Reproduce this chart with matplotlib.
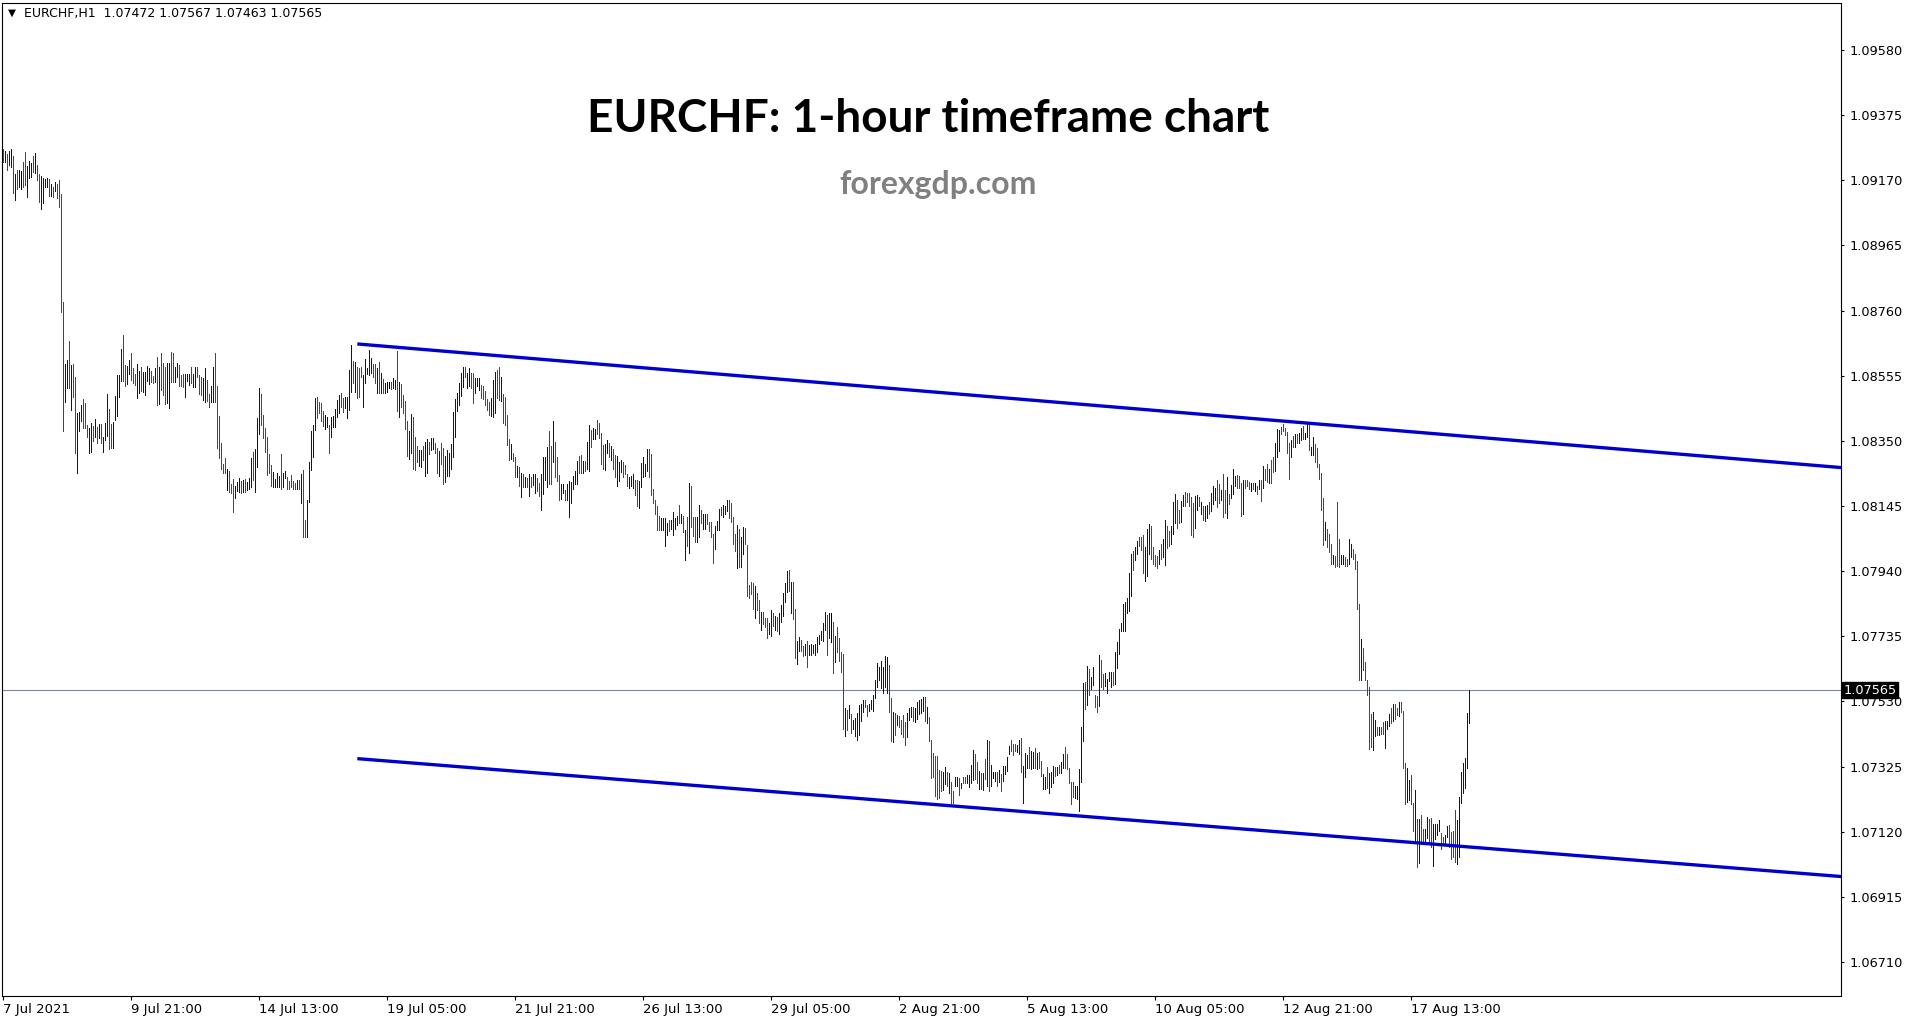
import matplotlib
matplotlib.use("Agg")
import matplotlib.pyplot as plt
from matplotlib.collections import LineCollection
import numpy as np

# EURCHF H1 bars, 7 Jul - 18 Aug 2021
# prices kept in points above 1.00000 (1 pt = 0.00001)
high_pts = [
    9267, 9263, 9252, 9263, 9270, 9246, 9190, 9202, 9202, 9200,
    9228, 9259, 9215, 9230, 9225, 9246, 9257, 9218, 9190, 9183,
    9177, 9175, 9177, 9173, 9158, 9148, 9164, 9158, 9171, 9127,
    8786, 8592, 8604, 8665, 8588, 8592, 8552, 8438, 8442, 8463,
    8481, 8468, 8400, 8391, 8405, 8397, 8419, 8394, 8403, 8403,
    8363, 8407, 8497, 8450, 8403, 8410, 8491, 8557, 8557, 8639,
    8683, 8588, 8585, 8604, 8627, 8580, 8562, 8592, 8571, 8583,
    8567, 8567, 8585, 8578, 8571, 8554, 8578, 8615, 8581, 8627,
    8596, 8581, 8596, 8596, 8630, 8627, 8583, 8596, 8588, 8557,
    8560, 8560, 8560, 8562, 8581, 8560, 8581, 8581, 8557, 8552,
    8547, 8578, 8541, 8499, 8522, 8581, 8627, 8522, 8429, 8344,
    8277, 8295, 8263, 8256, 8214, 8229, 8208, 8221, 8232, 8224,
    8227, 8229, 8221, 8232, 8295, 8316, 8323, 8421, 8515, 8497,
    8431, 8389, 8361, 8308, 8274, 8253, 8229, 8250, 8239, 8308,
    8248, 8256, 8235, 8224, 8242, 8224, 8218, 8227, 8227,
    8246, 8258, 8101, 8164, 8285, 8382, 8400, 8484, 8489, 8473,
    8470, 8445, 8431, 8424, 8400, 8424, 8428, 8449, 8479, 8494,
    8502, 8484, 8489, 8489, 8573, 8652, 8602, 8599, 8582, 8578,
    8582, 8557, 8607, 8578, 8636, 8610, 8591, 8591, 8578, 8599,
    8565, 8544, 8531, 8536, 8536, 8536, 8547, 8540, 8634, 8536,
    8529, 8494, 8477, 8411, 8382, 8435, 8426, 8363, 8334, 8321,
    8321, 8334, 8348, 8355, 8348, 8358, 8358, 8342, 8327, 8319,
    8342, 8327, 8302, 8321, 8313, 8340, 8442, 8481, 8502, 8531,
    8563, 8582, 8582, 8563, 8578, 8565, 8565, 8547, 8547, 8547,
    8526, 8523, 8508, 8481, 8473, 8484, 8540, 8568, 8573, 8582,
    8550, 8498, 8489, 8431, 8355, 8340, 8313, 8300, 8271, 8269,
    8248, 8246, 8237, 8232, 8246, 8237, 8246, 8246, 8232, 8216,
    8246, 8300, 8300, 8330, 8382, 8334, 8414, 8348, 8300, 8243,
    8214, 8214, 8195, 8214, 8225, 8222, 8240, 8256, 8288, 8302,
    8306, 8288, 8288, 8348, 8400, 8384, 8390, 8386, 8416, 8407,
    8375, 8336, 8340, 8352, 8342, 8333, 8323, 8305, 8302, 8284,
    8291, 8284, 8273, 8247, 8235, 8239, 8245, 8228, 8226, 8224,
    8281, 8300, 8277, 8323, 8323, 8310, 8200, 8163, 8144, 8113,
    8106, 8106, 8106, 8090, 8100, 8102, 8127, 8106, 8113, 8148,
    8119, 8113, 8069, 8109, 8218, 8207, 8109, 8109, 8109, 8148,
    8134, 8119, 8119, 8119, 8095, 8095, 8056, 8081, 8098, 8137,
    8142, 8148, 8144, 8165, 8165, 8153, 8111, 8056, 8085, 8074,
    8046, 8079, 8077, 8022, 7896, 7906, 7903, 7893, 7872, 7849,
    7812, 7812, 7794, 7794, 7777, 7817, 7807, 7798, 7796, 7807,
    7833, 7872, 7903, 7941, 7945, 7906, 7906, 7822, 7721, 7733,
    7723, 7704, 7710, 7721, 7707, 7710, 7707, 7712, 7733, 7738,
    7752, 7777, 7812, 7801, 7807, 7809, 7780, 7735, 7765, 7731,
    7686, 7679, 7508, 7502, 7518, 7492, 7473, 7479, 7494, 7518,
    7523, 7534, 7534, 7518, 7521, 7534, 7550, 7597, 7651, 7637,
    7658, 7637, 7672, 7670, 7644, 7542, 7497, 7494, 7487, 7484,
    7471, 7487, 7466, 7494, 7508, 7513, 7513, 7508, 7529, 7536,
    7539, 7543, 7543, 7513, 7482, 7408, 7368, 7358, 7358, 7314,
    7312, 7309, 7324, 7309, 7306, 7277, 7249, 7291, 7291, 7288,
    7274, 7293, 7293, 7298, 7298, 7330, 7377, 7366, 7340, 7312,
    7306, 7306, 7348, 7410, 7406, 7330, 7309, 7309, 7309, 7314,
    7301, 7326, 7326, 7356, 7389, 7410, 7396, 7396, 7393, 7410,
    7414, 7326, 7368, 7361, 7387, 7375, 7372, 7385, 7368, 7372,
    7343, 7301, 7293, 7324, 7306, 7309, 7326, 7324, 7324, 7330,
    7340, 7364, 7387, 7364, 7322, 7277, 7277, 7264, 7264, 7316,
    7448, 7589, 7592, 7641, 7631, 7606, 7639, 7550, 7547, 7676,
    7660, 7616, 7620, 7602, 7623, 7623, 7623, 7686, 7717, 7759,
    7777, 7836, 7843, 7854, 7935, 7993, 8004, 8016, 8035, 8048,
    8048, 8053, 8016, 8074, 8088, 8081, 8016, 7990, 7987, 8006,
    8025, 8040, 8100, 8081, 8067, 8081, 8158, 8182, 8165, 8132,
    8161, 8179, 8190, 8186, 8186, 8172, 8153, 8176, 8179, 8172,
    8158, 8144, 8144, 8148, 8158, 8186, 8207, 8203, 8228, 8214,
    8195, 8245, 8195, 8235, 8182, 8210, 8260, 8239, 8242, 8239,
    8216, 8228, 8226, 8228, 8221, 8218, 8216, 8216, 8207, 8228,
    8228, 8270, 8263, 8277, 8263, 8289, 8298, 8342, 8386, 8384,
    8394, 8402, 8389, 8378, 8342, 8354, 8365, 8373, 8373, 8375,
    8389, 8396, 8375, 8405, 8407, 8331, 8363, 8340, 8329, 8277,
    8249, 8169, 8095, 8074, 8058,
    8027, 7990, 7987, 8158, 8040, 7990, 7990, 7985, 7977, 8040,
    8027, 8011, 7993, 7972, 7836, 7725, 7697, 7655, 7597, 7576,
    7492, 7497, 7473, 7450, 7448, 7448, 7466, 7469, 7469, 7492,
    7508, 7521, 7521, 7508, 7529,
    7529, 7501, 7335, 7322, 7282, 7298, 7211, 7251, 7159, 7159,
    7172, 7130, 7130, 7165, 7159, 7162, 7144, 7144, 7144, 7157,
    7115, 7104, 7109, 7138, 7141, 7120, 7123, 7188, 7157, 7230,
    7309, 7335, 7351, 7494, 7567,
]

low_pts = [
    9228, 9228, 9204, 9218, 9213, 9129, 9108, 9144, 9148, 9144,
    9150, 9155, 9118, 9178, 9181, 9195, 9194, 9171, 9102, 9080,
    9099, 9148, 9150, 9121, 9121, 9118, 9137, 9114, 9087, 8756,
    8382, 8473, 8515, 8515, 8447, 8489, 8311, 8250, 8382, 8413,
    8392, 8392, 8361, 8311, 8316, 8350, 8361, 8342, 8358, 8342,
    8316, 8352, 8365, 8323, 8329, 8329, 8415, 8429, 8489, 8539,
    8539, 8523, 8529, 8562, 8541, 8531, 8526, 8484, 8502, 8508,
    8505, 8494, 8539, 8529, 8536, 8531, 8536, 8463, 8466, 8510,
    8494, 8466, 8468, 8452, 8536, 8536, 8536, 8552, 8523, 8523,
    8518, 8487, 8539, 8526, 8531, 8518, 8520, 8550, 8497, 8494,
    8480, 8473, 8476, 8457, 8473, 8473, 8473, 8326, 8295, 8263,
    8248, 8250, 8195, 8190, 8185, 8127, 8169, 8193, 8190, 8187,
    8190, 8190, 8195, 8200, 8206, 8227, 8190, 8269, 8373, 8400,
    8358, 8316, 8242, 8250, 8208, 8204, 8206, 8204, 8206, 8197,
    8204, 8232, 8200, 8197, 8204, 8200, 8200, 8197, 8200,
    8154, 8046, 8046, 8046, 8159, 8258, 8300, 8384, 8421, 8439,
    8414, 8397, 8386, 8395, 8313, 8361, 8393, 8393, 8424, 8439,
    8458, 8442, 8452, 8421, 8447, 8505, 8533, 8505, 8484, 8489,
    8550, 8458, 8533, 8561, 8557, 8565, 8550, 8533, 8500, 8500,
    8502, 8500, 8500, 8505, 8515, 8512, 8515, 8512, 8445, 8424,
    8456, 8437, 8388, 8302, 8292, 8313, 8261, 8258, 8285, 8271,
    8269, 8290, 8239, 8248, 8309, 8321, 8323, 8311, 8250, 8239,
    8277, 8214, 8219, 8239, 8239, 8261, 8298, 8361, 8445, 8463,
    8491, 8519, 8550, 8515, 8523, 8515, 8468, 8500, 8523, 8510,
    8484, 8481, 8463, 8447, 8431, 8428, 8424, 8439, 8484, 8479,
    8477, 8405, 8400, 8337, 8290, 8292, 8288, 8237, 8237, 8208,
    8172, 8204, 8204, 8204, 8177, 8206, 8211, 8185, 8193, 8177,
    8133, 8183, 8227, 8204, 8214, 8214, 8285, 8237, 8225, 8164,
    8166, 8185, 8164, 8164, 8109, 8156, 8198, 8214, 8214, 8248,
    8250, 8250, 8256, 8261, 8256, 8332, 8355, 8355, 8372, 8358,
    8277, 8263, 8258, 8312, 8298, 8291, 8263, 8237, 8207, 8224,
    8252, 8235, 8245, 8207, 8203, 8207, 8203, 8179, 8144, 8140,
    8205, 8235, 8239, 8256, 8237, 8179, 8153, 8121, 8071, 8071,
    8071, 8069, 8019, 8053, 8067, 8074, 8053, 8074, 8085, 8090,
    8092, 8064, 7975, 8019, 7998, 8079, 8050, 8032, 8032, 8048,
    8090, 8074, 8074, 8088, 8067, 8048, 7966, 8011, 8069, 8069,
    8116, 8109, 8121, 8130, 8106, 8095, 8025, 8004, 7951, 7953,
    7953, 7995, 8025, 7861, 7857, 7868, 7822, 7794, 7819, 7777,
    7756, 7775, 7763, 7731, 7742, 7735, 7767, 7756, 7752, 7742,
    7780, 7798, 7843, 7875, 7878, 7809, 7791, 7668, 7649, 7689,
    7689, 7672, 7676, 7637, 7676, 7676, 7681, 7676, 7686, 7712,
    7723, 7721, 7754, 7676, 7731, 7717, 7620, 7655, 7686, 7658,
    7623, 7442, 7421, 7440, 7479, 7431, 7442, 7421, 7410, 7424,
    7469, 7497, 7511, 7484, 7500, 7505, 7500, 7542, 7574, 7599,
    7571, 7557, 7574, 7555, 7497, 7406, 7403, 7424, 7455, 7450,
    7427, 7419, 7393, 7417, 7471, 7480, 7469, 7466, 7476, 7490,
    7494, 7501, 7469, 7461, 7406, 7288, 7293, 7232, 7222, 7225,
    7249, 7251, 7270, 7264, 7243, 7209, 7211, 7264, 7264, 7235,
    7259, 7272, 7274, 7274, 7261, 7274, 7282, 7285, 7274, 7256,
    7253, 7251, 7285, 7264, 7249, 7264, 7288, 7280, 7264, 7277,
    7249, 7280, 7301, 7312, 7364, 7375, 7361, 7375, 7372, 7364,
    7309, 7209, 7291, 7319, 7319, 7316, 7319, 7319, 7316, 7322,
    7295, 7256, 7256, 7259, 7243, 7261, 7274, 7295, 7298, 7306,
    7306, 7322, 7319, 7316, 7274, 7207, 7230, 7225, 7222, 7186,
    7277, 7406, 7505, 7518, 7550, 7568, 7581, 7513, 7497, 7515,
    7574, 7568, 7578, 7557, 7595, 7576, 7581, 7584, 7634, 7679,
    7752, 7752, 7752, 7807, 7815, 7861, 7945, 7975, 7993, 8019,
    8006, 7935, 7909, 7924, 7993, 7977, 7962, 7956, 7951, 7964,
    7977, 7983, 7959, 8014, 8019, 8025, 8056, 8092, 8077, 8092,
    8095, 8144, 8144, 8158, 8144, 8053, 8046, 8077, 8132, 8144,
    8121, 8100, 8098, 8106, 8121, 8130, 8151, 8165, 8142, 8155,
    8163, 8109, 8123, 8106, 8151, 8169, 8184, 8207, 8203, 8203,
    8113, 8121, 8203, 8207, 8197, 8193, 8197, 8193, 8182, 8197,
    8161, 8203, 8226, 8221, 8218, 8218, 8253, 8256, 8300, 8319,
    8371, 8381, 8368, 8312, 8231, 8300, 8331, 8331, 8342, 8344,
    8352, 8357, 8357, 8363, 8321, 8305, 8305, 8284, 8268, 8231,
    8132, 8022, 8037, 8017, 8001,
    7962, 7964, 7953, 7956, 7953, 7962, 7964, 7956, 7956, 7962,
    7985, 7977, 7948, 7822, 7597, 7599, 7628, 7599, 7550, 7379,
    7387, 7377, 7421, 7424, 7424, 7429, 7429, 7385, 7442, 7452,
    7463, 7469, 7476, 7487, 7484,
    7498, 7322, 7207, 7214, 7220, 7207, 7123, 7092, 7008, 7022,
    7081, 7085, 7085, 7099, 7085, 7071, 7012, 7096, 7109, 7123,
    7067, 7081, 7085, 7104, 7073, 7033, 7041, 7025, 7018, 7039,
    7209, 7243, 7259, 7322, 7463,
]

# u = close above open (blue), d = close below open (red), n = unchanged
bar_dir = (
    "duduududun" "dduuududdu" "uuudududdd" "duududduuu" "ddduududud"
    "uuudduuuuu" "dduuddduud" "uuuuddudud" "dduudduudd" "duuuduuddd"
    "uudduudddd" "ddnddduuud" "uduuuduuud" "ddddduuuud" "uudddddud"
    "udduuuuudd" "ddnuduuuuu" "dduuuududd" "duuuuuddud" "udunnduudu"
    "dddduudddu" "uduuduuddu" "dduuuuuuuu" "uuduudduuu" "ddddduuudd"
    "udddduddud" "udududuudd" "uuuudduddd" "uuduuuuuud" "duduuduudd"
    "ddundudduu" "uddduuuddu" "uuuudddddd" "uuuuduuuud" "udududdduu"
    "duudddduuu" "duuuddddud" "uudddddudd" "uddduududu" "uuuududduu"
    "dduduuuuuu" "uuudundudd" "ddududuuuu" "uudduuuuuu" "uuuuddudud"
    "ddduuudnuu" "uududddddd" "duududduud" "udduuuuddu" "dududunudu"
    "duuuuddduu" "duuuduudud" "duuduuudud" "uuddddduuu" "uududuuddu"
    "dduuuuduuu" "uuuuuuduud" "dduuuddddu" "duudduuudd" "uuddddduud"
    "uduuduuudd" "udduduuudd" "dudddndndu" "duddudduuu" "dddddududu"
    "udnuduuddd" "ddudd"
    "duddduuddu" "uddddudddd" "duududduuu" "duddu"
    "ddduuddudu" "dduudduuuu" "dduudddduu" "uuuuu"
)

last_price = 1.07565
header = "EURCHF,H1  1.07472 1.07567 1.07463 1.07565"

# trend lines drawn on the chart: (bar, price) end points
upper_line = ([177, 918.9], [1.08655, 1.08266])
lower_line = ([177, 918.9], [1.07350, 1.06979])

y_ticks = [1.06710, 1.06915, 1.07120, 1.07325, 1.07530, 1.07735, 1.07940,
           1.08145, 1.08350, 1.08555, 1.08760, 1.08965, 1.09170, 1.09375, 1.09580]
x_tick_bars = [0, 64, 128, 192, 256, 320, 384, 448, 512, 576, 640, 704]
x_tick_labels = ["7 Jul 2021", "9 Jul 21:00", "14 Jul 13:00", "19 Jul 05:00",
                 "21 Jul 21:00", "26 Jul 13:00", "29 Jul 05:00", "2 Aug 21:00",
                 "5 Aug 13:00", "10 Aug 05:00", "12 Aug 21:00", "17 Aug 13:00"]

assert len(high_pts) == len(low_pts) == len(bar_dir)

highs = 1 + np.array(high_pts) / 1e5
lows = 1 + np.array(low_pts) / 1e5
bars = np.arange(len(highs))

W, H = 1913, 1023
fig = plt.figure(figsize=(W / 100, H / 100), dpi=100)
ax = fig.add_axes([2 / W, 27 / H, 1839 / W, 993 / H])

colour = {"u": "#0000cc", "d": "#ee0000", "n": "#000000"}
segs = [[(b, lo), (b, hi)] for b, lo, hi in zip(bars, lows, highs)]
lc = LineCollection(segs, colors=[colour[c] for c in bar_dir],
                    linewidths=0.6, antialiaseds=False, zorder=3)
ax.add_collection(lc)

# trend lines
for xs, ys in (upper_line, lower_line):
    ax.plot(xs, ys, color="#0000cd", lw=2.4, solid_capstyle="butt", zorder=4)

# current price line
ax.axhline(last_price, color="#7f8890", lw=0.8, zorder=2)

ax.set_xlim(-0.65, 918.85)
ax.set_ylim(1.06603, 1.09728)

for s in ax.spines.values():
    s.set_linewidth(0.8)
    s.set_color("black")

ax.yaxis.tick_right()
ax.set_yticks(y_ticks)
ax.set_yticklabels([f"{v:.5f}" for v in y_ticks])
ax.set_xticks(x_tick_bars)
ax.set_xticklabels(x_tick_labels)
for lab in ax.get_xticklabels():
    lab.set_horizontalalignment("left")
ax.tick_params(axis="y", direction="out", length=2.5, width=0.8, labelsize=9.3, pad=4,
               labelcolor="black")
ax.tick_params(axis="x", direction="out", length=3, width=0.8, labelsize=9.5, pad=2)

# price label on the right scale
ax.text(1.0015, last_price, f"{last_price:.5f}", transform=ax.get_yaxis_transform(),
        ha="left", va="center", fontsize=9.3, color="white", zorder=10, clip_on=False,
        bbox=dict(boxstyle="square,pad=0.12", fc="black", ec="black"))

# header in the top-left corner
fig.text(8 / W, 1 - 13 / H, "\u25bc", fontsize=7.5, va="center", ha="left")
fig.text(24 / W, 1 - 13 / H, header, fontsize=9, va="center", ha="left")

# title and site name
fig.text(928 / W, 1 - 119 / H, "EURCHF: 1-hour timeframe chart", fontsize=33,
         fontweight="bold", family="Lato", ha="center", va="center", color="black")
fig.text(938 / W, 1 - 184 / H, "forexgdp.com", fontsize=23, fontweight="bold",
         family="Lato", ha="center", va="center", color="#808080")

fig.savefig("out.png", dpi=100)
